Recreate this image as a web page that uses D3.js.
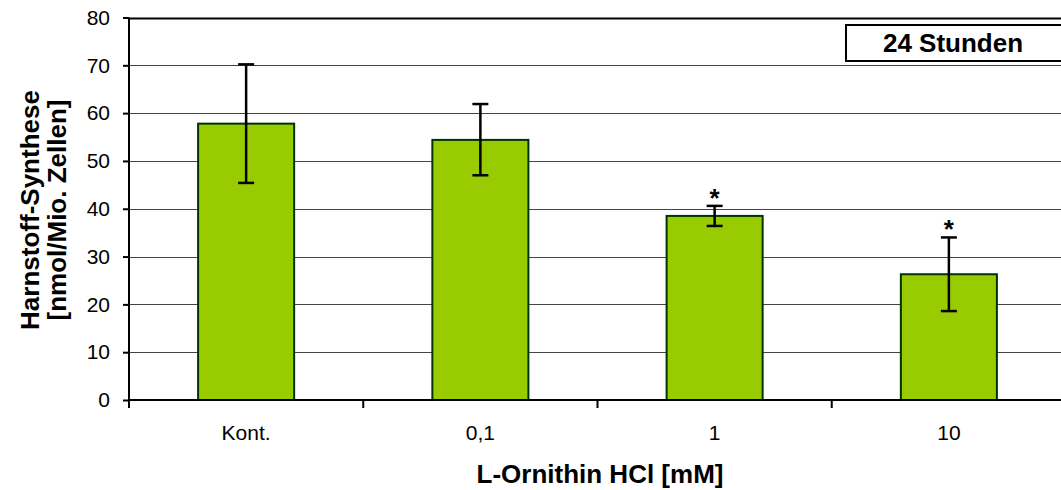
<!DOCTYPE html>
<html>
<head>
<meta charset="utf-8">
<script src="https://cdn.jsdelivr.net/npm/d3@7"></script>
<style>
  body { margin: 0; background: #fff; }
  text { font-family: "Liberation Sans", Arial, sans-serif; }
</style>
</head>
<body>
<div id="chart"></div>
<script>
const width = 1061;
const height = 490;

// data
const categories = ["Kont.", "0,1", "1", "10"];
const means = [57.8, 54.4, 38.5, 26.3];
const errHigh = [70.2, 61.9, 40.6, 34.0];
const errLow = [45.4, 47.0, 36.4, 18.6];
const significant = [false, false, true, true];
const yTicks = [0, 10, 20, 30, 40, 50, 60, 70, 80];

const margin = { top: 17.5, left: 129 };
const plotRight = 1066;
const font = "Liberation Sans, Arial, sans-serif";

const svg = d3.select("#chart")
  .append("svg")
  .attr("width", width)
  .attr("height", height);

const x = d3.scaleBand()
  .domain(categories)
  .range([margin.left, plotRight])
  .paddingInner(0.59)
  .paddingOuter(0.295);

const y = d3.scaleLinear()
  .domain([0, 80])
  .range([400, margin.top]);

// gridlines
svg.append("g")
  .selectAll("line")
  .data(yTicks.filter(d => d > 0))
  .join("line")
  .attr("x1", margin.left)
  .attr("x2", width)
  .attr("y1", d => Math.round(y(d)) + 0.5)
  .attr("y2", d => Math.round(y(d)) + 0.5)
  .attr("stroke", d => d === 80 ? "#000" : "#444")
  .attr("stroke-width", d => d === 80 ? 2 : 1);

// bars
svg.append("g")
  .selectAll("rect")
  .data(categories)
  .join("rect")
  .attr("x", d => x(d))
  .attr("y", (d, i) => y(means[i]))
  .attr("width", x.bandwidth())
  .attr("height", (d, i) => y(0) - y(means[i]))
  .attr("fill", "#99cc00")
  .attr("stroke", "#003300")
  .attr("stroke-width", 2);

// error bars
const eb = svg.append("g").attr("stroke", "#000").attr("stroke-width", 2.5);
categories.forEach((c, i) => {
  const cx = x(c) + x.bandwidth() / 2;
  eb.append("line").attr("x1", cx).attr("x2", cx)
    .attr("y1", y(errHigh[i])).attr("y2", y(errLow[i]));
  [errHigh[i], errLow[i]].forEach(v => {
    eb.append("line").attr("x1", cx - 8).attr("x2", cx + 8)
      .attr("y1", y(v)).attr("y2", y(v));
  });
  if (significant[i]) {
    svg.append("text")
      .attr("x", cx)
      .attr("y", y(errHigh[i]) + 1)
      .attr("text-anchor", "middle")
      .attr("font-size", 26)
      .attr("font-weight", "bold")
      .text("*");
  }
});

// y axis
const yAxis = svg.append("g")
  .attr("transform", `translate(${margin.left},0)`)
  .call(d3.axisLeft(y).tickValues(yTicks).tickSize(6).tickPadding(13));
yAxis.select(".domain").attr("stroke", "#000").attr("stroke-width", 2)
  .attr("d", `M0,${y(80)}V${y(0)}`);
yAxis.selectAll(".tick line").attr("stroke", "#000").attr("stroke-width", 2);
yAxis.selectAll(".tick text").attr("font-size", 21).attr("fill", "#000")
  .attr("font-family", font);

// x axis
const xAxis = svg.append("g")
  .attr("transform", `translate(0,${y(0)})`)
  .call(d3.axisBottom(x).tickSize(0).tickPadding(0));
xAxis.select(".domain").attr("stroke", "#000").attr("stroke-width", 2)
  .attr("d", `M${margin.left},0H${width}`);
xAxis.selectAll(".tick text").attr("font-size", 21).attr("fill", "#000")
  .attr("font-family", font).attr("dy", null).attr("y", 40);

// category separators on x axis
const step = x.step();
const sepX = d3.range(categories.length + 1).map(i => margin.left + i * step);
svg.append("g")
  .selectAll("line")
  .data(sepX)
  .join("line")
  .attr("x1", d => d).attr("x2", d => d)
  .attr("y1", y(0)).attr("y2", y(0) + 8)
  .attr("stroke", "#000")
  .attr("stroke-width", 2);

// axis titles
svg.append("text")
  .attr("x", 600)
  .attr("y", 483)
  .attr("text-anchor", "middle")
  .attr("font-size", 26)
  .attr("font-weight", "bold")
  .text("L-Ornithin HCl [mM]");

const yTitle = svg.append("text")
  .attr("transform", "translate(0,210) rotate(-90)")
  .attr("text-anchor", "middle")
  .attr("font-size", 26)
  .attr("font-weight", "bold");
yTitle.append("tspan").attr("x", 0).attr("y", 39).text("Harnstoff-Synthese");
yTitle.append("tspan").attr("x", 0).attr("y", 66).text("[nmol/Mio. Zellen]");

// legend box
svg.append("rect")
  .attr("x", 846)
  .attr("y", 25)
  .attr("width", 240)
  .attr("height", 36)
  .attr("fill", "#fff")
  .attr("stroke", "#000")
  .attr("stroke-width", 2);
svg.append("text")
  .attr("x", 953)
  .attr("y", 52)
  .attr("text-anchor", "middle")
  .attr("font-size", 26)
  .attr("font-weight", "bold")
  .text("24 Stunden");
</script>
</body>
</html>
